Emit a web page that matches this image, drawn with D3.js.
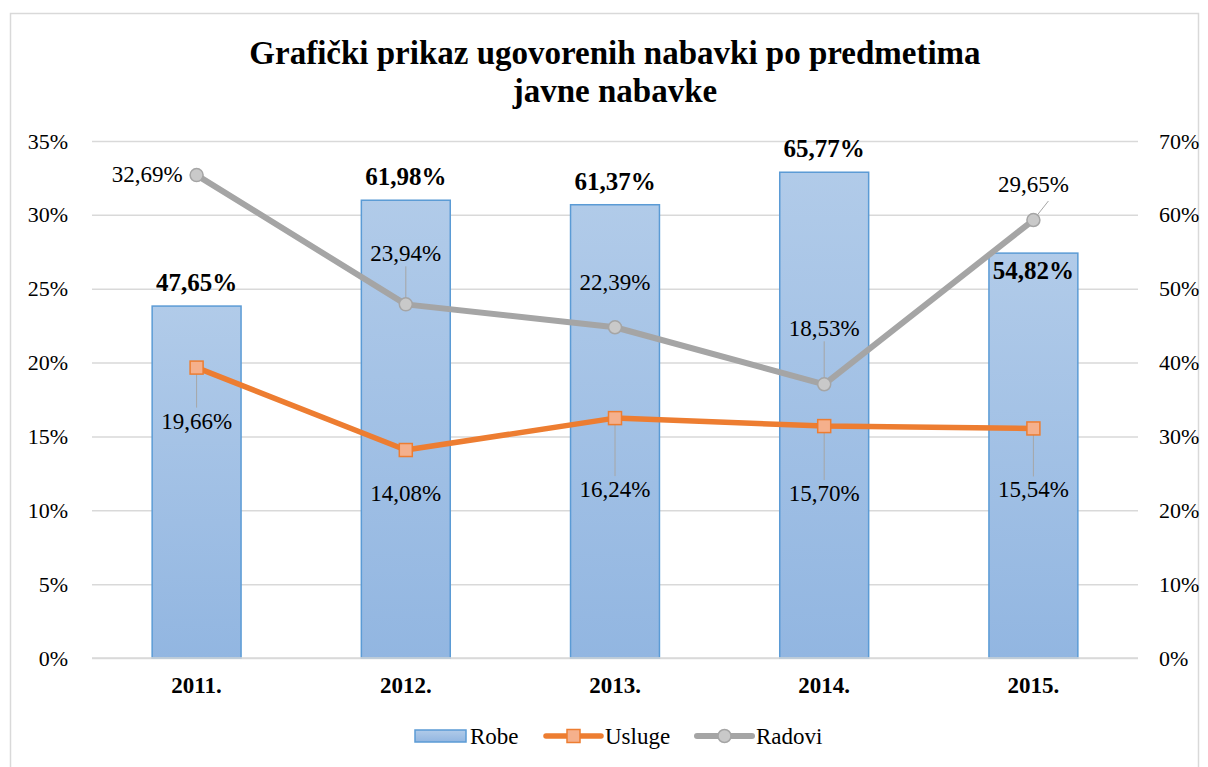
<!DOCTYPE html>
<html>
<head>
<meta charset="utf-8">
<script src="https://cdn.jsdelivr.net/npm/d3@7"></script>
<style>
  body { margin: 0; background: #fff; }
  svg text { font-family: "Liberation Serif", "DejaVu Serif", serif !important; fill: #000; }
</style>
</head>
<body>
<svg id="chart" width="1208" height="767"></svg>
<script>
// data
var years = ["2011.", "2012.", "2013.", "2014.", "2015."];
var robe = [47.65, 61.98, 61.37, 65.77, 54.82];     // bars, right axis
var usluge = [19.66, 14.08, 16.24, 15.70, 15.54];   // left axis
var radovi = [32.69, 23.94, 22.39, 18.53, 29.65];   // left axis
var leftTicks = [0, 5, 10, 15, 20, 25, 30, 35];
var rightTicks = [0, 10, 20, 30, 40, 50, 60, 70];

// label placement (dx, dy from the point, in px)
var robeLabelOff = [[0, -15], [0, -15], [0, -15], [0, -15], [0, 26]];
var uslugeLabelOff = [[0, 61], [0, 51], [0, 79], [0, 75], [0, 69]];
var radoviLabelOff = [[-14, -1], [0, -51], [0, -45], [0, -56], [0, -36]];
var radoviLabelAnchor = ["end", "middle", "middle", "middle", "middle"];

var svg = d3.select("#chart");
var margin = {top: 141, right: 70, bottom: 109, left: 92};
var width = 1208 - margin.left - margin.right,
    height = 767 - margin.top - margin.bottom;

// chart border
svg.append("rect")
  .attr("x", 10.5).attr("y", 13.5)
  .attr("width", 1188).attr("height", 770)
  .attr("fill", "none").attr("stroke", "#d9d9d9").attr("stroke-width", 1.5);

var defs = svg.append("defs");
var grad = defs.append("linearGradient").attr("id", "barGrad")
  .attr("x1", 0).attr("y1", 0).attr("x2", 0).attr("y2", 1);
grad.append("stop").attr("offset", "0%").attr("stop-color", "#b1cbe9");
grad.append("stop").attr("offset", "100%").attr("stop-color", "#92b6e1");

var g = svg.append("g").attr("transform", "translate(" + margin.left + "," + margin.top + ")");

var x = d3.scaleBand().domain(years).range([0, width]).paddingInner(0.575).paddingOuter(0.2875);
var yL = d3.scaleLinear().domain([0, 35]).range([height, 0]);
var yR = d3.scaleLinear().domain([0, 70]).range([height, 0]);
var fmt = function(v) { return v.toFixed(2).replace(".", ",") + "%"; };

// gridlines
g.append("g")
  .call(d3.axisLeft(yL).tickValues(leftTicks).tickSize(-width).tickFormat(""))
  .call(a => a.select(".domain").remove())
  .selectAll("line").attr("stroke", "#d9d9d9").attr("stroke-width", 1.5);

// left axis labels
g.append("g")
  .call(d3.axisLeft(yL).tickValues(leftTicks).tickSize(0).tickPadding(24).tickFormat(d => d + "%"))
  .call(a => a.select(".domain").remove())
  .selectAll("text").style("font-size", "22px");

// right axis labels
g.append("g")
  .attr("transform", "translate(" + width + ",0)")
  .call(d3.axisRight(yR).tickValues(rightTicks).tickSize(0).tickPadding(21).tickFormat(d => d + "%"))
  .call(a => a.select(".domain").remove())
  .selectAll("text").style("font-size", "22px");

// bars
g.selectAll(".bar").data(robe).enter().append("rect")
  .attr("class", "bar")
  .attr("x", (d, i) => x(years[i]))
  .attr("y", d => yR(d))
  .attr("width", x.bandwidth())
  .attr("height", d => height - yR(d))
  .attr("fill", "url(#barGrad)")
  .attr("stroke", "#5b9bd5").attr("stroke-width", 1.5);

// baseline
g.append("line").attr("x1", 0).attr("x2", width).attr("y1", height).attr("y2", height)
  .attr("stroke", "#d9d9d9").attr("stroke-width", 1.5);

// x axis labels
g.append("g")
  .attr("transform", "translate(0," + height + ")")
  .call(d3.axisBottom(x).tickSize(0).tickPadding(19))
  .call(a => a.select(".domain").remove())
  .selectAll("text").style("font-size", "23px").style("font-weight", "bold");

var cx = i => x(years[i]) + x.bandwidth() / 2;

var line = d3.line().x((d, i) => cx(i)).y(d => yL(d));

// leader lines (point -> label)
function leaders(vals, offs, minDist) {
  vals.forEach(function(v, i) {
    var px = cx(i), py = yL(v);
    var o = offs[i];
    if (Math.abs(o[1]) < minDist) return;
    var ty = o[1] > 0 ? py + o[1] - 21 : py + o[1] + 13;
    g.append("line")
      .attr("x1", px).attr("y1", py)
      .attr("x2", px + o[0] * 0.3).attr("y2", ty)
      .attr("stroke", "#a6a6a6").attr("stroke-width", 1);
  });
}
leaders(usluge, uslugeLabelOff, 55);
leaders(radovi, radoviLabelOff, 48);
// 2015 radovi has a short slanted leader
g.append("line")
  .attr("x1", cx(4)).attr("y1", yL(radovi[4]))
  .attr("x2", cx(4) + 15).attr("y2", yL(radovi[4]) - 19)
  .attr("stroke", "#a6a6a6").attr("stroke-width", 1);

// lines
g.append("path").datum(radovi).attr("d", line)
  .attr("fill", "none").attr("stroke", "#a5a5a5").attr("stroke-width", 6).attr("stroke-linejoin", "round");
g.append("path").datum(usluge).attr("d", line)
  .attr("fill", "none").attr("stroke", "#ed7d31").attr("stroke-width", 5.5).attr("stroke-linejoin", "round");

// markers
g.selectAll(".mRad").data(radovi).enter().append("circle")
  .attr("cx", (d, i) => cx(i)).attr("cy", d => yL(d)).attr("r", 6.5)
  .attr("fill", "#c9c9c9").attr("stroke", "#a5a5a5").attr("stroke-width", 1.5);
g.selectAll(".mUsl").data(usluge).enter().append("rect")
  .attr("x", (d, i) => cx(i) - 6.5).attr("y", d => yL(d) - 6.5)
  .attr("width", 13).attr("height", 13)
  .attr("fill", "#f5b08c").attr("stroke", "#ed7d31").attr("stroke-width", 1.5);

// data labels
g.selectAll(".lRobe").data(robe).enter().append("text")
  .attr("x", (d, i) => cx(i) + robeLabelOff[i][0])
  .attr("y", (d, i) => yR(d) + robeLabelOff[i][1])
  .attr("text-anchor", "middle")
  .style("font-size", "25px").style("font-weight", "bold")
  .text(fmt);

g.selectAll(".lUsl").data(usluge).enter().append("text")
  .attr("x", (d, i) => cx(i) + uslugeLabelOff[i][0])
  .attr("y", (d, i) => yL(d) + uslugeLabelOff[i][1])
  .attr("text-anchor", "middle")
  .style("font-size", "23px")
  .text(fmt);

g.selectAll(".lRad").data(radovi).enter().append("text")
  .attr("x", (d, i) => cx(i) + radoviLabelOff[i][0])
  .attr("y", (d, i) => yL(d) + radoviLabelOff[i][1])
  .attr("dy", "0.35em")
  .attr("text-anchor", (d, i) => radoviLabelAnchor[i])
  .style("font-size", "23px")
  .text(fmt);

// title
svg.append("text").attr("x", 615).attr("y", 64).attr("text-anchor", "middle")
  .style("font-size", "33px").style("font-weight", "bold")
  .text("Grafički prikaz ugovorenih nabavki po predmetima");
svg.append("text").attr("x", 615).attr("y", 102).attr("text-anchor", "middle")
  .style("font-size", "33px").style("font-weight", "bold")
  .text("javne nabavke");

// legend
var lg = svg.append("g").attr("transform", "translate(0,736)");
lg.append("rect").attr("x", 415).attr("y", -6).attr("width", 51).attr("height", 12)
  .attr("fill", "url(#barGrad)").attr("stroke", "#5b9bd5").attr("stroke-width", 1.5);
lg.append("text").attr("x", 470).attr("y", 8).style("font-size", "23px").text("Robe");

lg.append("line").attr("x1", 546).attr("x2", 601).attr("y1", 0).attr("y2", 0)
  .attr("stroke", "#ed7d31").attr("stroke-width", 5.5).attr("stroke-linecap", "round");
lg.append("rect").attr("x", 567).attr("y", -6.5).attr("width", 13).attr("height", 13)
  .attr("fill", "#f5b08c").attr("stroke", "#ed7d31").attr("stroke-width", 1.5);
lg.append("text").attr("x", 605).attr("y", 8).style("font-size", "23px").text("Usluge");

lg.append("line").attr("x1", 697).attr("x2", 752).attr("y1", 0).attr("y2", 0)
  .attr("stroke", "#a5a5a5").attr("stroke-width", 6).attr("stroke-linecap", "round");
lg.append("circle").attr("cx", 724.5).attr("cy", 0).attr("r", 6.5)
  .attr("fill", "#c9c9c9").attr("stroke", "#a5a5a5").attr("stroke-width", 1.5);
lg.append("text").attr("x", 756).attr("y", 8).style("font-size", "23px").text("Radovi");
</script>
</body>
</html>
